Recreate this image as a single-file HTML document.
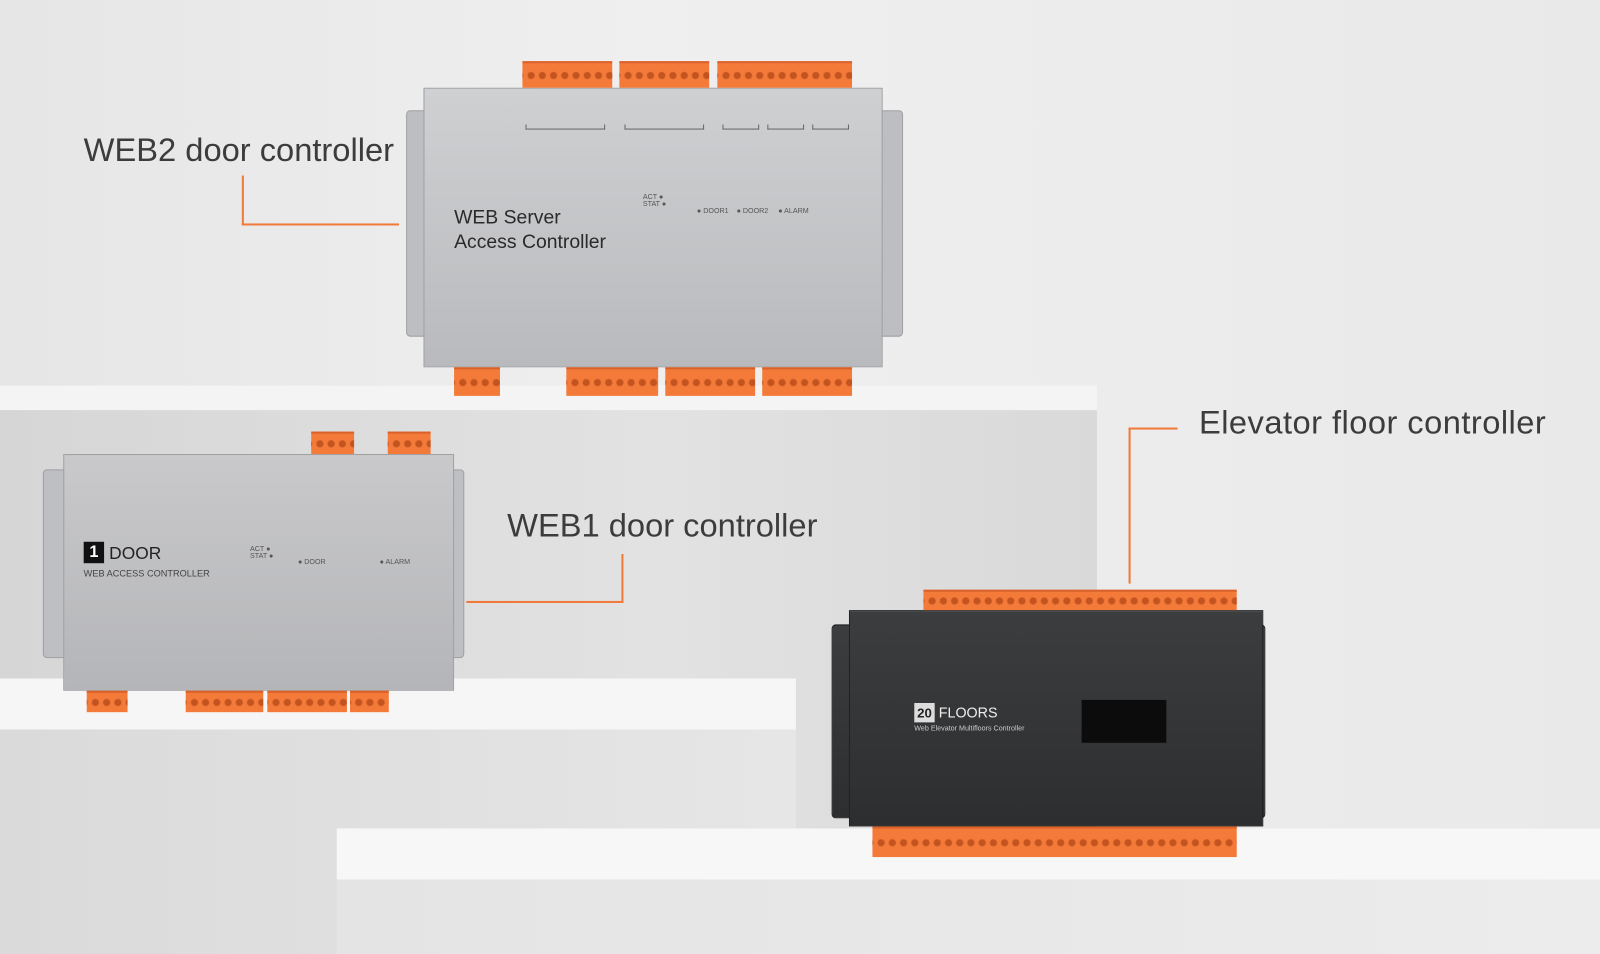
<!DOCTYPE html>
<html><head><meta charset="utf-8"><style>
*{margin:0;padding:0;box-sizing:border-box}
html,body{width:1600px;height:954px;overflow:hidden;background:#ececec}
#w{position:absolute;left:0;top:0;width:1568px;height:935px;transform:scale(1.0204,1.0203);transform-origin:0 0;background:linear-gradient(90deg,#e6e6e6,#efefef 40%,#e9e9e9);font-family:"Liberation Sans",sans-serif;overflow:hidden}
.a{position:absolute}
.lbl{position:absolute;font-size:32px;color:#3c3c3c;white-space:nowrap;letter-spacing:0px}
.ln{position:absolute;background:#f07a3a}
.term{position:absolute;background:#f47a3a;border-top:2px solid #d9612a;background-image:radial-gradient(circle,#c4541f 3px,transparent 4px);background-size:11px 100%;background-position:3px 0}
.silver{position:absolute;background:linear-gradient(180deg,#c9c9cb,#b4b5b8);border:1px solid #a0a0a3}
.dark{position:absolute;background:linear-gradient(180deg,#3c3d3f,#2d2e30);border:1px solid #222}
.sm{position:absolute;font-size:7px;color:#555}
.br{position:absolute;border:1px solid #666;border-top:none;height:5px}
</style></head><body><div id="w">
<div class="a" style="left:0;top:378px;width:1075px;height:24px;background:#f4f4f4"></div>
<div class="a" style="left:0;top:402px;width:1075px;height:540px;background:linear-gradient(90deg,#d6d6d6,#e2e2e2 60%,#d9d9d9)"></div>
<div class="a" style="left:0;top:665px;width:780px;height:50px;background:#f6f6f6"></div>
<div class="a" style="left:0;top:715px;width:780px;height:230px;background:linear-gradient(90deg,#dadada,#e6e6e6)"></div>
<div class="a" style="left:330px;top:812px;width:1240px;height:50px;background:#f7f7f7"></div>
<div class="a" style="left:330px;top:862px;width:1240px;height:80px;background:linear-gradient(90deg,#e4e4e4,#ececec)"></div>

<div class="silver" style="left:398px;top:108px;width:487px;height:222px;border-radius:4px;background:#bdbec1"></div>
<div class="silver" style="left:415px;top:86px;width:450px;height:274px;background:linear-gradient(180deg,#cfd0d2,#b9babd)"></div>
<div class="term" style="left:512px;top:60px;width:88px;height:26px"></div>
<div class="term" style="left:607px;top:60px;width:88px;height:26px"></div>
<div class="term" style="left:703px;top:60px;width:132px;height:26px"></div>
<div class="term" style="left:445px;top:360px;width:45px;height:28px"></div>
<div class="term" style="left:555px;top:360px;width:90px;height:28px"></div>
<div class="term" style="left:652px;top:360px;width:88px;height:28px"></div>
<div class="term" style="left:747px;top:360px;width:88px;height:28px"></div>
<div class="br" style="left:515px;top:122px;width:78px"></div>
<div class="br" style="left:612px;top:122px;width:78px"></div>
<div class="br" style="left:708px;top:122px;width:36px"></div>
<div class="br" style="left:752px;top:122px;width:36px"></div>
<div class="br" style="left:796px;top:122px;width:36px"></div>
<div class="a" style="left:445px;top:202px;font-size:19px;color:#2a2a2a;line-height:24px">WEB Server<br>Access Controller</div>
<div class="sm" style="left:630px;top:190px">ACT ●<br>STAT ●</div>
<div class="sm" style="left:683px;top:204px">● DOOR1 &nbsp;&nbsp; ● DOOR2 &nbsp;&nbsp;&nbsp; ● ALARM</div>
<div class="lbl" style="left:82px;top:129px">WEB2 door controller</div>
<div class="ln" style="left:237px;top:172px;width:2px;height:49px"></div>
<div class="ln" style="left:237px;top:219px;width:154px;height:2px"></div>

<div class="silver" style="left:42px;top:460px;width:413px;height:185px;border-radius:4px;background:#bebfc2"></div>
<div class="silver" style="left:62px;top:445px;width:383px;height:232px"></div>
<div class="term" style="left:305px;top:423px;width:42px;height:22px"></div>
<div class="term" style="left:380px;top:423px;width:42px;height:22px"></div>
<div class="term" style="left:85px;top:677px;width:40px;height:21px"></div>
<div class="term" style="left:182px;top:677px;width:76px;height:21px"></div>
<div class="term" style="left:262px;top:677px;width:78px;height:21px"></div>
<div class="term" style="left:343px;top:677px;width:38px;height:21px"></div>
<div class="a" style="left:82px;top:531px;width:20px;height:21px;background:#111;color:#fff;font-weight:bold;font-size:16px;text-align:center;line-height:21px">1</div>
<div class="a" style="left:107px;top:533px;font-size:17px;color:#222">DOOR</div>
<div class="a" style="left:82px;top:557px;font-size:9px;color:#444">WEB ACCESS CONTROLLER</div>
<div class="sm" style="left:245px;top:535px">ACT ●<br>STAT ●</div>
<div class="sm" style="left:292px;top:548px">● DOOR</div>
<div class="sm" style="left:372px;top:548px">● ALARM</div>
<div class="lbl" style="left:497px;top:497px">WEB1 door controller</div>
<div class="ln" style="left:609px;top:543px;width:2px;height:48px"></div>
<div class="ln" style="left:457px;top:589px;width:154px;height:2px"></div>

<div class="dark" style="left:815px;top:612px;width:425px;height:190px;border-radius:4px"></div>
<div class="dark" style="left:832px;top:598px;width:406px;height:212px"></div>
<div class="term" style="left:905px;top:578px;width:307px;height:20px"></div>
<div class="term" style="left:855px;top:810px;width:357px;height:30px"></div>
<div class="a" style="left:896px;top:689px;width:20px;height:19px;background:#ddd;color:#222;font-size:13px;font-weight:bold;text-align:center;line-height:19px">20</div>
<div class="a" style="left:920px;top:690px;font-size:14px;color:#eee">FLOORS</div>
<div class="a" style="left:896px;top:711px;font-size:7px;color:#ccc">Web Elevator Multifloors Controller</div>
<div class="a" style="left:1060px;top:686px;width:83px;height:42px;background:#0c0c0c"></div>
<div class="lbl" style="left:1175px;top:396px;letter-spacing:0.45px">Elevator floor controller</div>
<div class="ln" style="left:1106px;top:419px;width:48px;height:2px"></div>
<div class="ln" style="left:1106px;top:419px;width:2px;height:153px"></div>
</div></body></html>
